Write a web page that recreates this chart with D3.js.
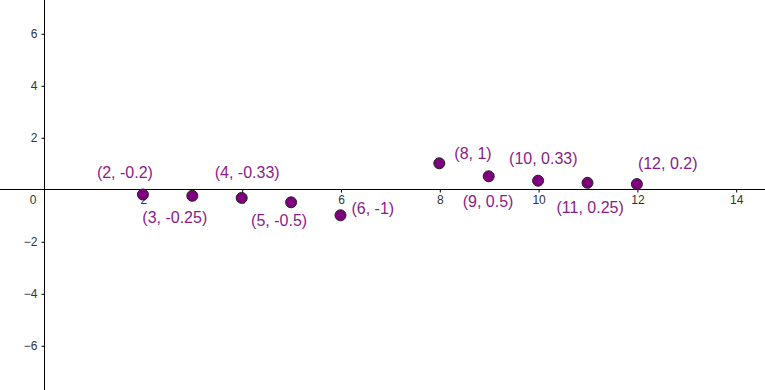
<!DOCTYPE html>
<html><head><meta charset="utf-8">
<script src="https://cdn.jsdelivr.net/npm/d3@7"></script>
<style>html,body{margin:0;padding:0;background:#fff;}svg{display:block;}</style>
</head><body>
<script>
// data
const xs = [2, 3, 4, 5, 6, 8, 9, 10, 11, 12];
const ys = [-0.2, -0.25, -0.33, -0.5, -1, 1, 0.5, 0.33, 0.25, 0.2];
const labels = ["(2, -0.2)", "(3, -0.25)", "(4, -0.33)", "(5, -0.5)", "(6, -1)", "(8, 1)", "(9, 0.5)", "(10, 0.33)", "(11, 0.25)", "(12, 0.2)"];
const xTicks = [2, 4, 6, 8, 10, 12, 14];
const yTicks = [-6, -4, -2, 2, 4, 6];
// label offsets (layout)
const labelOffsets = [[-46,-17],[-50,27],[-27,-20],[-40,24],[11,-1],[15,-4],[-26,31],[-29,-17],[-31,30],[1,-15]];

const W = 765, H = 390;
const x = d3.scaleLinear().domain([0, 14]).range([44.1, 44.1 + 14 * 49.4]);
const y = d3.scaleLinear().domain([0, 6]).range([189.3, 189.3 - 6 * 26]);

const svg = d3.select("body").append("svg").attr("width", W).attr("height", H)
  .style("font-family", "'Liberation Sans', Arial, sans-serif");

// axes lines
svg.append("line").attr("x1", 0).attr("x2", W).attr("y1", Math.round(y(0)) + 0.5).attr("y2", Math.round(y(0)) + 0.5)
  .attr("stroke", "#000").attr("stroke-width", 1);
svg.append("line").attr("y1", 0).attr("y2", H).attr("x1", Math.round(x(0)) + 0.5).attr("x2", Math.round(x(0)) + 0.5)
  .attr("stroke", "#000").attr("stroke-width", 1);

const fmt = v => (v < 0 ? "\u2212" + Math.abs(v) : String(v));

// x axis
const xAxis = d3.axisBottom(x).tickValues(xTicks).tickSize(3).tickPadding(3).tickFormat(fmt);
const gx = svg.append("g").attr("transform", `translate(0.5,${Math.round(y(0)) + 0.5})`).call(xAxis);
gx.select(".domain").remove();
gx.selectAll(".tick line").attr("stroke", "#000");
gx.selectAll(".tick text").attr("fill", "#333").style("font-size", "12px").style("font-family", "'Liberation Sans', Arial, sans-serif");

// y axis
const yAxis = d3.axisLeft(y).tickValues(yTicks).tickSize(3).tickPadding(4).tickFormat(fmt);
const gy = svg.append("g").attr("transform", `translate(${Math.round(x(0)) + 0.5},0.5)`).call(yAxis);
gy.select(".domain").remove();
gy.selectAll(".tick line").attr("stroke", "#000");
gy.selectAll(".tick text").attr("fill", "#333").style("font-size", "12px").style("font-family", "'Liberation Sans', Arial, sans-serif");

// origin label
svg.append("text").attr("x", x(0) - 11).attr("y", y(0) + 15).attr("text-anchor", "middle")
  .attr("fill", "#333").style("font-size", "12px").text("0");

// points
const pts = xs.map((v, i) => ({x: v, y: ys[i], label: labels[i], off: labelOffsets[i]}));
svg.append("g").selectAll("circle").data(pts).join("circle")
  .attr("cx", d => x(d.x)).attr("cy", d => y(d.y)).attr("r", 5.5)
  .attr("fill", "#7f007f").attr("stroke", "#222").attr("stroke-width", 1);

svg.append("g").selectAll("text").data(pts).join("text")
  .attr("x", d => x(d.x) + d.off[0]).attr("y", d => y(d.y) + d.off[1])
  .attr("fill", "#8b1a8b").style("font-size", "16px").text(d => d.label);
</script>
</body></html>
